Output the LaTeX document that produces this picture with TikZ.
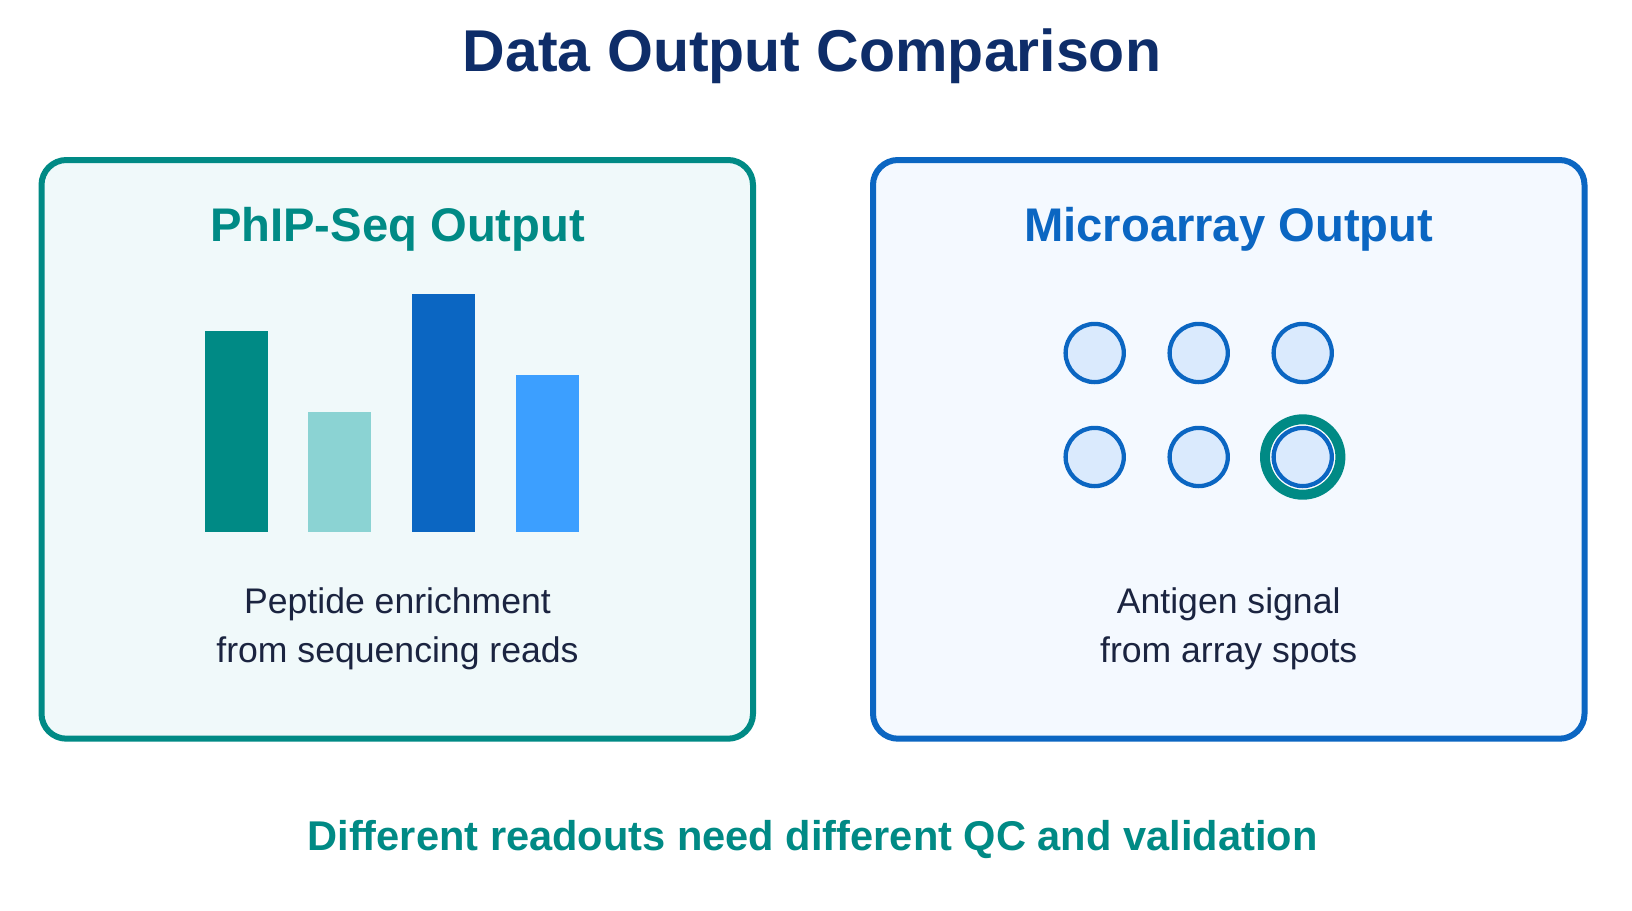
\documentclass[tikz,border=0pt]{standalone}
\usepackage{fontspec}
\setmainfont{Liberation Sans}
\usepackage{tikz}

\definecolor{titlenavy}{HTML}{0E2D69}
\definecolor{phipteal}{HTML}{008A85}
\definecolor{phipbg}{HTML}{F0F9FA}
\definecolor{lightteal}{HTML}{8BD3D3}
\definecolor{arrayblue}{HTML}{0B66C2}
\definecolor{arraybg}{HTML}{F4F9FF}
\definecolor{skyblue}{HTML}{3C9FFF}
\definecolor{spotfill}{HTML}{DAEAFD}
\definecolor{bodytext}{HTML}{1B2440}

\begin{document}
\begin{tikzpicture}[x=0.5pt,y=-0.5pt,
    panel/.style={line width=3pt,rounded corners=12.5pt},
    heading/.style={anchor=base,font=\fontsize{23.6}{28}\selectfont\bfseries},
    caption/.style={anchor=base,text=bodytext,font=\fontsize{17.8}{21}\selectfont},
    spot/.style={circle,draw=arrayblue,fill=spotfill,line width=2.15pt,minimum size=29.1pt,inner sep=0pt}]
    \fill[white] (0,0) rectangle (1632,910);
    \useasboundingbox (0,0) rectangle (1632,910);

    % title
    \node at (812,71) [anchor=base,text=titlenavy,font=\fontsize{29.5}{34}\selectfont\bfseries] (title) {Data Output Comparison};

    % left panel: PhIP-Seq
    \draw[panel,draw=phipteal,fill=phipbg] (41.5,160) rectangle (753,738.7);
    \node at (397.5,241.7) [heading,text=phipteal] (phiphead) {PhIP-Seq Output};
    \fill[phipteal] (205,532) rectangle (268,331);
    \fill[lightteal] (308,532) rectangle (371,412);
    \fill[arrayblue] (412,532) rectangle (475,294);
    \fill[skyblue] (516,532) rectangle (579,375);
    \node at (397.5,613) [caption] (phipcap1) {Peptide enrichment};
    \node at (397.5,662.3) [caption] (phipcap2) {from sequencing reads};

    % right panel: microarray
    \draw[panel,draw=arrayblue,fill=arraybg] (873,160) rectangle (1584.5,738.7);
    \node at (1228.7,241.7) [heading,text=arrayblue] (arrayhead) {Microarray Output};
    \node at (1094.7,353) [spot] (s1) {};
    \node at (1198.7,353) [spot] (s2) {};
    \node at (1302.7,353) [spot] (s3) {};
    \node at (1094.7,457) [spot] (s4) {};
    \node at (1198.7,457) [spot] (s5) {};
    \node at (1302.7,457) [circle,draw=phipteal,fill=white,line width=5pt,minimum size=37.7pt,inner sep=0pt] (hit) {};
    \node at (1302.7,457) [spot] (s6) {};
    \node at (1228.7,613) [caption] (arraycap1) {Antigen signal};
    \node at (1228.7,662.3) [caption] (arraycap2) {from array spots};

    % bottom note
    \node at (812.5,850.7) [anchor=base,text=phipteal,font=\fontsize{20.8}{24}\selectfont\bfseries] (note) {Different readouts need different QC and validation};
\end{tikzpicture}
\end{document}
